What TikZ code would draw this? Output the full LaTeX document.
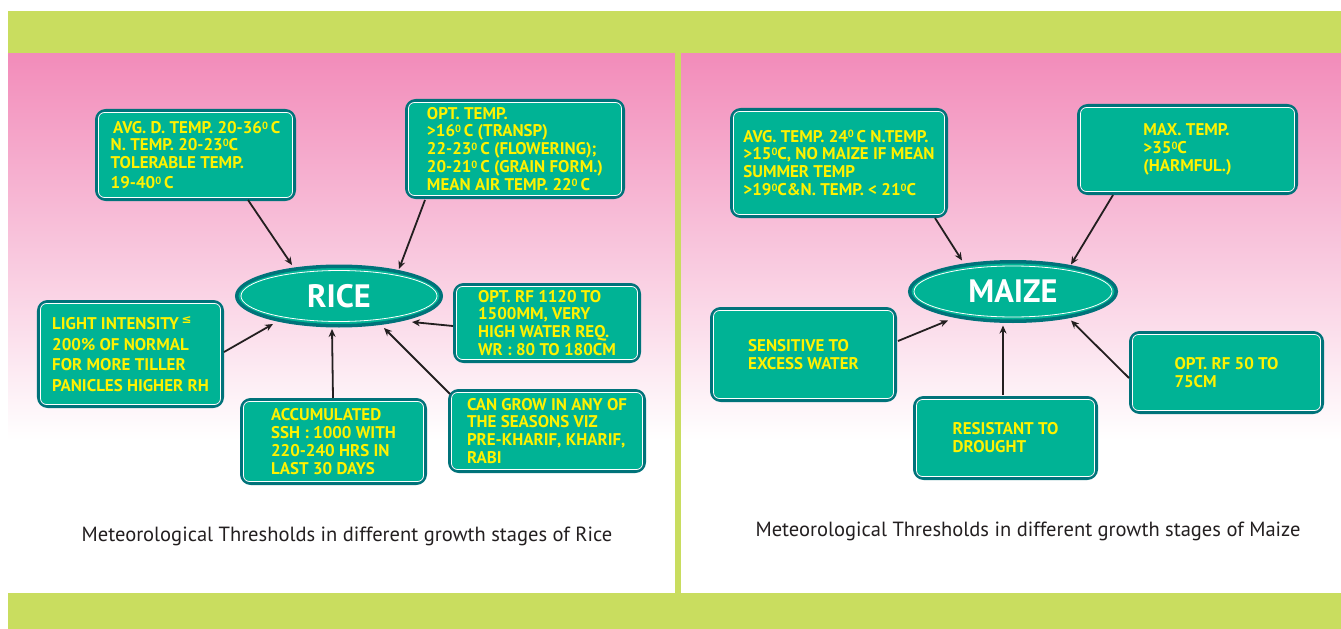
\documentclass[tikz,border=0pt]{standalone}
\usepackage{fontspec}
\setmainfont{PT Sans}
\newfontfamily\bxfont{PT Sans}
\newfontfamily\symfont{DejaVu Sans}
\usetikzlibrary{arrows.meta,shapes.geometric}
\definecolor{bandgreen}{HTML}{C9DD5F}
\definecolor{pinktop}{HTML}{F28CBA}
\definecolor{boxfill}{HTML}{00B395}
\definecolor{boxedge}{HTML}{00737A}
\definecolor{txtyellow}{HTML}{FFF200}
\definecolor{arrowdark}{HTML}{231F20}
\definecolor{captgray}{HTML}{231F20}
\newcommand{\dg}{\raisebox{0.5ex}{\fontsize{10.5}{10.5}\selectfont 0}}
\begin{document}
\begin{tikzpicture}[x=1bp,y=-1bp,
  cbox/.style={rectangle, rounded corners=9bp, fill=boxfill, draw=boxedge, line width=3.5bp,
    inner sep=0pt, text=txtyellow, font=\bxfont\bfseries\fontsize{17}{18}\selectfont, align=left},
  crop/.style={ellipse, fill=boxfill, draw=boxedge, line width=3.5bp, inner sep=0pt,
    text=white, font=\bxfont\bfseries\fontsize{32.5}{32}\selectfont},
  innerline/.style={draw=white, line width=0.8bp, rounded corners=6bp},
  arr/.style={draw=arrowdark, line width=1.8bp, -{Stealth[length=8bp,width=7bp]}},
  capt/.style={text=captgray, font=\fontsize{20.6}{24}\selectfont, inner sep=0pt}
]
\useasboundingbox (0,0) rectangle (1341,629);
\fill[white] (0,0) rectangle (1341,629);
% bands and panels
\fill[bandgreen] (8,11) rectangle (1341,54);
\fill[bandgreen] (8,593) rectangle (1341,629);
\shade[top color=pinktop, bottom color=white] (8,54) rectangle (675,440);
\shade[top color=pinktop, bottom color=white] (681,54) rectangle (1341,440);
\fill[bandgreen] (675,54) rectangle (681,593);

% ---------- RICE ----------
\node[crop, minimum width=204.5bp, minimum height=59.5bp] (rice) at (339,296) {RICE};
\node[cbox, minimum width=197.5bp, minimum height=88.5bp, font=\bxfont\bfseries\fontsize{17}{17.5}\selectfont] (avgR) at (195.5,155)
  {\hspace{2.5bp}AVG. D. TEMP. 20-36\dg\,C\\ N. TEMP. 20-23\dg C\\ TOLERABLE TEMP.\\[3bp] 19-40\dg\,C};
\node[cbox, minimum width=216.5bp, minimum height=96.5bp] (optR) at (515,149)
  {OPT. TEMP.\\ >16\dg\,C (TRANSP)\\ 22-23\dg\,C (FLOWERING);\\ 20-21\dg\,C (GRAIN FORM.)\\ MEAN AIR TEMP. 22\dg\,C};
\node[cbox, minimum width=183.5bp, minimum height=104.5bp, font=\bxfont\bfseries\fontsize{17}{20.5}\selectfont] (lightR) at (130.5,354)
  {LIGHT INTENSITY\,\textsuperscript{\symfont ≤}\\ 200\% OF NORMAL\\ FOR MORE TILLER\\ PANICLES HIGHER RH};
\node[cbox, minimum width=184.5bp, minimum height=76.5bp] (rfR) at (547,323)
  {OPT. RF 1120 TO\\ 1500MM, VERY\\ HIGH WATER REQ.\\ WR : 80 TO 180CM};
\node[cbox, minimum width=183.5bp, minimum height=83.5bp] (accR) at (333.5,441.5)
  {ACCUMULATED\\ SSH : 1000 WITH\\ 220-240 HRS IN\\ LAST 30 DAYS};
\node[cbox, minimum width=194.5bp, minimum height=80.5bp] (canR) at (547,431)
  {CAN GROW IN ANY OF\\ THE SEASONS VIZ\\ PRE-KHARIF, KHARIF,\\ RABI};

% ---------- MAIZE ----------
\node[crop, minimum width=206.5bp, minimum height=59.5bp] (maize) at (1013,291.5) {MAIZE};
\node[cbox, minimum width=214.5bp, minimum height=106.5bp] (avgM) at (839,163)
  {AVG. TEMP. 24\dg\,C N.TEMP.\\ >15\dg C, NO MAIZE IF MEAN\\ SUMMER TEMP\\ >19\dg C\&N. TEMP. < 21\dg C};
\node[cbox, minimum width=217.5bp, minimum height=87.5bp] (maxM) at (1187.5,149.5)
  {MAX. TEMP.\\ >35\dg C\\ (HARMFUL.)};
\node[cbox, minimum width=183.5bp, minimum height=91.5bp] (sensM) at (803.5,354.5)
  {SENSITIVE TO\\ EXCESS WATER};
\node[cbox, minimum width=181.5bp, minimum height=80.5bp] (resM) at (1005.5,438)
  {RESISTANT TO\\ DROUGHT};
\node[cbox, minimum width=191.5bp, minimum height=79.5bp] (rfM) at (1226.5,372.5)
  {OPT. RF 50 TO\\ 75CM};

% inner white lines
\foreach \n in {avgR,optR,lightR,rfR,accR,canR,avgM,maxM,sensM,resM,rfM}
  \draw[innerline] ([shift={(3.5,-3.5)}]\n.south west) rectangle ([shift={(-3.5,3.5)}]\n.north east);
\draw[draw=white, line width=0.8bp] (rice.center) ellipse [x radius=98bp, y radius=25.5bp];
\draw[draw=white, line width=0.8bp] (maize.center) ellipse [x radius=99bp, y radius=25.5bp];

% connectors
\draw[arr] ([shift={(52.5,45)}]avgR.center) -- ([shift={(-47,-31)}]rice.center);
\draw[arr] ([shift={(-90,51)}]optR.center) -- ([shift={(60,-27)}]rice.center);
\draw[arr] ([shift={(93.5,-2)}]lightR.center) -- ([shift={(-66,28)}]rice.center);
\draw[arr] ([shift={(-94,3)}]rfR.center) -- ([shift={(73,26)}]rice.center);
\draw[arr] ([shift={(-0.5,-43.5)}]accR.center) -- ([shift={(-7,33)}]rice.center);
\draw[arr] ([shift={(-97,-37)}]canR.center) -- ([shift={(45,32)}]rice.center);

\draw[arr] ([shift={(96,55)}]avgM.center) -- ([shift={(-51,-31)}]maize.center);
\draw[arr] ([shift={(-74.5,45.5)}]maxM.center) -- ([shift={(58,-27)}]maize.center);
\draw[arr] ([shift={(94.5,-13.5)}]sensM.center) -- ([shift={(-65,29)}]maize.center);
\draw[arr] ([shift={(-2.5,-43)}]resM.center) -- ([shift={(-10,34)}]maize.center);
\draw[arr] ([shift={(-97.5,5.5)}]rfM.center) -- ([shift={(58,29)}]maize.center);

% captions
\node[capt] (captR) at (347,536) {Meteorological Thresholds in different growth stages of Rice};
\node[capt] (captM) at (1028,531) {Meteorological Thresholds in different growth stages of Maize};
\end{tikzpicture}
\end{document}
